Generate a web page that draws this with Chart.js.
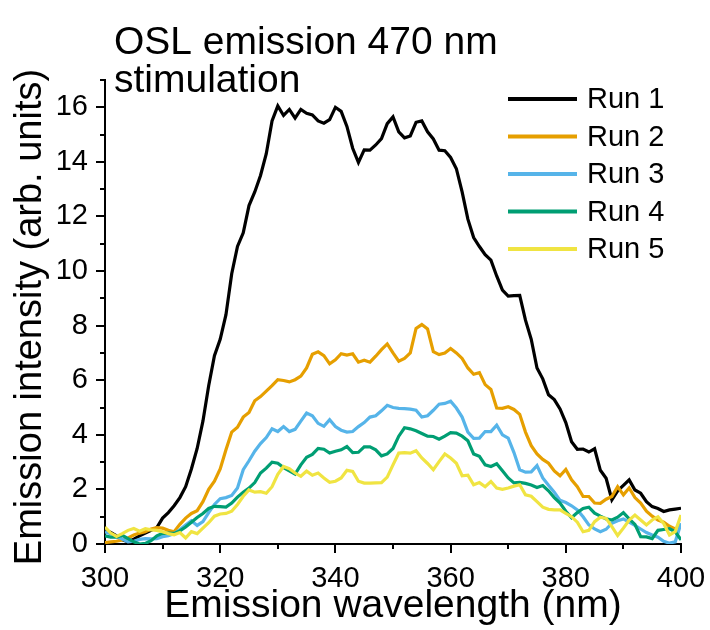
<!DOCTYPE html>
<html>
<head>
<meta charset="utf-8">
<script src="https://cdn.jsdelivr.net/npm/chart.js@4/dist/chart.umd.min.js"></script>
<style>
  html, body { margin: 0; padding: 0; background: #ffffff; }
  #wrap { width: 710px; height: 630px; }
</style>
</head>
<body>
<div id="wrap"><canvas id="chart" width="710" height="630"></canvas></div>
<script>
// Emission wavelength (nm), 1 nm steps
const wavelength = [
  300,301,302,303,304,305,306,307,308,309,
  310,311,312,313,314,315,316,317,318,319,
  320,321,322,323,324,325,326,327,328,329,
  330,331,332,333,334,335,336,337,338,339,
  340,341,342,343,344,345,346,347,348,349,
  350,351,352,353,354,355,356,357,358,359,
  360,361,362,363,364,365,366,367,368,369,
  370,371,372,373,374,375,376,377,378,379,
  380,381,382,383,384,385,386,387,388,389,
  390,391,392,393,394,395,396,397,398,399,
  400
];

// Emission intensity (arb. units) per run
const run1 = [
  0.50,0.42,0.30,0.15,0.08,0.18,0.30,0.40,0.50,0.60,
  0.95,1.15,1.40,1.70,2.10,2.75,3.50,4.50,5.80,6.90,
  7.50,8.40,9.90,10.9,11.4,12.4,12.9,13.5,14.3,15.5,
  16.05,15.7,15.92,15.6,15.92,15.78,15.72,15.5,15.42,15.55,
  16.0,15.85,15.3,14.5,13.98,14.44,14.43,14.62,14.85,15.4,
  15.65,15.1,14.88,14.95,15.45,15.5,15.1,14.84,14.43,14.41,
  14.16,13.75,12.9,11.9,11.23,10.9,10.6,10.4,9.82,9.30,
  9.08,9.10,9.11,8.20,7.50,6.45,6.05,5.47,5.29,4.95,
  4.45,3.75,3.47,3.48,3.37,3.49,2.70,2.41,1.62,1.95,
  2.15,2.35,1.98,1.86,1.55,1.37,1.30,1.19,1.25,1.28,
  1.31
];
const run2 = [
  0.05,0.08,0.10,0.15,0.22,0.33,0.40,0.45,0.55,0.60,
  0.58,0.50,0.45,0.72,0.95,1.12,1.22,1.55,2.00,2.30,
  2.75,3.45,4.10,4.28,4.65,4.82,5.25,5.40,5.60,5.80,
  6.02,5.99,5.94,6.02,6.15,6.45,6.95,7.04,6.90,6.60,
  6.75,6.97,6.92,6.97,6.66,6.73,6.66,6.88,7.12,7.33,
  7.00,6.70,6.80,7.00,7.90,8.04,7.88,7.05,6.94,7.00,
  7.16,7.00,6.80,6.45,6.22,6.28,5.84,5.66,4.98,4.97,
  5.03,4.93,4.75,4.10,3.60,3.30,3.10,2.96,2.68,2.50,
  2.73,2.35,2.10,1.74,1.74,1.50,1.49,1.64,1.74,2.10,
  1.80,2.05,1.70,1.50,1.20,1.02,0.88,0.80,0.65,0.55,
  0.70
];
const run3 = [
  0.45,0.38,0.28,0.18,0.08,0.10,0.17,0.20,0.19,0.20,
  0.27,0.30,0.38,0.52,0.70,0.85,0.68,0.82,1.15,1.45,
  1.66,1.70,1.78,2.05,2.72,3.05,3.40,3.68,3.90,4.22,
  4.12,4.30,4.12,4.20,4.50,4.80,4.70,4.42,4.31,4.55,
  4.30,4.17,4.10,4.12,4.30,4.45,4.65,4.70,4.88,5.08,
  5.00,4.97,4.96,4.94,4.90,4.65,4.70,4.90,5.12,5.15,
  5.23,4.98,4.65,4.10,3.87,3.88,4.12,4.12,4.35,4.00,
  3.88,3.35,2.72,2.63,2.64,2.87,2.42,2.15,1.90,1.60,
  1.52,1.40,1.25,1.00,0.70,0.55,0.45,0.54,0.76,0.85,
  0.92,0.80,0.68,0.55,0.42,0.33,0.25,0.10,0.03,0.08,
  0.76
];
const run4 = [
  0.30,0.25,0.25,0.32,0.20,0.08,0.00,0.02,0.12,0.30,
  0.39,0.40,0.39,0.48,0.62,0.80,0.97,1.12,1.30,1.38,
  1.37,1.35,1.50,1.72,1.90,2.05,2.25,2.60,2.78,3.00,
  2.96,2.80,2.68,2.56,2.90,3.18,3.28,3.50,3.47,3.33,
  3.40,3.45,3.57,3.35,3.36,3.56,3.56,3.45,3.23,3.30,
  3.50,3.95,4.26,4.22,4.15,4.05,3.95,3.94,3.84,3.95,
  4.08,4.06,3.95,3.78,3.30,3.21,2.90,2.84,2.94,2.68,
  2.42,2.24,2.26,2.22,2.16,2.07,2.14,1.95,1.70,1.50,
  1.20,0.96,1.15,1.30,1.35,1.13,1.02,0.92,0.88,0.98,
  1.15,0.92,0.72,0.27,0.26,0.20,0.50,0.53,0.56,0.45,
  0.15
];
const run5 = [
  0.62,0.40,0.28,0.38,0.50,0.57,0.47,0.56,0.52,0.50,
  0.45,0.38,0.34,0.42,0.22,0.45,0.38,0.58,0.78,1.02,
  1.10,1.12,1.20,1.45,1.75,1.98,1.90,1.92,1.86,2.10,
  2.55,2.84,2.76,2.60,2.48,2.67,2.52,2.60,2.42,2.26,
  2.30,2.42,2.70,2.66,2.30,2.23,2.23,2.24,2.25,2.45,
  2.90,3.33,3.35,3.33,3.42,3.15,2.95,2.72,3.02,3.30,
  3.15,2.96,2.50,2.52,2.17,2.25,2.10,2.29,2.05,2.00,
  2.05,2.12,2.17,1.80,1.75,1.55,1.35,1.27,1.25,1.25,
  1.12,1.00,0.80,0.45,0.50,0.82,0.98,0.94,0.64,0.31,
  0.58,0.88,1.06,0.88,0.70,0.88,1.00,0.75,0.33,0.45,
  1.06
];

const runLabels = ['Run 1', 'Run 2', 'Run 3', 'Run 4', 'Run 5'];
const runColors = ['#000000', '#E69F00', '#56B4E9', '#009E73', '#F0E442'];
const runValues = [run1, run2, run3, run4, run5];

const xMajorTicks = [300, 320, 340, 360, 380, 400];
const yMajorTicks = [0, 2, 4, 6, 8, 10, 12, 14, 16];

const titleLines = ['OSL emission 470 nm', 'stimulation'];
const xTitle = 'Emission wavelength (nm)';
const yTitle = 'Emission intensity (arb. units)';

const FONT = "'Liberation Sans', Arial, sans-serif";

const datasets = runValues.map((vals, i) => ({
  label: runLabels[i],
  data: wavelength.map((w, k) => ({ x: w, y: vals[k] })),
  borderColor: runColors[i],
  backgroundColor: runColors[i],
  borderWidth: 3.2,
  pointRadius: 0,
  tension: 0,
  order: runValues.length - i
}));

// Outward major/minor tick marks on both axes
const tickMarks = {
  id: 'tickMarks',
  afterDraw(chart) {
    const { ctx, chartArea, scales } = chart;
    ctx.save();
    ctx.strokeStyle = '#000';
    ctx.lineWidth = 2;
    ctx.beginPath();
    scales.x.ticks.forEach(t => {
      const px = Math.round(scales.x.getPixelForValue(t.value));
      const len = xMajorTicks.includes(t.value) ? 9 : 5;
      ctx.moveTo(px, chartArea.bottom);
      ctx.lineTo(px, chartArea.bottom + len);
    });
    scales.y.ticks.forEach(t => {
      const py = Math.round(scales.y.getPixelForValue(t.value));
      const len = yMajorTicks.includes(t.value) ? 9 : 5;
      ctx.moveTo(chartArea.left, py);
      ctx.lineTo(chartArea.left - len, py);
    });
    ctx.stroke();
    ctx.restore();
  }
};

// Plot title, rotated y-axis title and the series key
const annotations = {
  id: 'annotations',
  afterDraw(chart) {
    const { ctx, chartArea } = chart;
    ctx.save();
    ctx.fillStyle = '#000';
    ctx.textAlign = 'left';
    ctx.textBaseline = 'alphabetic';
    ctx.font = '39px ' + FONT;
    ctx.fillText(titleLines[0], 114, 54);
    ctx.fillText(titleLines[1], 114, 92);

    // y-axis title
    ctx.save();
    ctx.translate(31, (chartArea.top + chartArea.bottom) / 2 + 5);
    ctx.rotate(-Math.PI / 2);
    ctx.textAlign = 'center';
    ctx.textBaseline = 'middle';
    ctx.font = '38px ' + FONT;
    ctx.fillText(yTitle, 0, 0);
    ctx.restore();

    ctx.font = '29px ' + FONT;
    ctx.textBaseline = 'middle';
    chart.data.datasets.forEach((ds, i) => {
      const y = 99 + i * 37.5;
      ctx.strokeStyle = ds.borderColor;
      ctx.lineWidth = 4;
      ctx.beginPath();
      ctx.moveTo(508, y);
      ctx.lineTo(577, y);
      ctx.stroke();
      ctx.fillStyle = '#000';
      ctx.fillText(ds.label, 587, y + 1);
    });
    ctx.restore();
  }
};

new Chart(document.getElementById('chart'), {
  type: 'line',
  data: { datasets },
  options: {
    responsive: false,
    animation: false,
    layout: { padding: { top: 80, right: 29, left: 0, bottom: 0 } },
    plugins: {
      legend: { display: false },
      tooltip: { enabled: false },
      title: { display: false }
    },
    scales: {
      x: {
        type: 'linear',
        min: 300,
        max: 400,
        afterFit(scale) {
          scale.height = 86;
          scale.paddingLeft = 0;
          scale.paddingRight = 0;
        },
        grid: { display: false },
        border: { display: true, color: '#000', width: 2 },
        ticks: {
          stepSize: 10,
          autoSkip: false,
          maxRotation: 0,
          padding: 10,
          color: '#000',
          font: { family: FONT, size: 29 },
          callback: v => (xMajorTicks.includes(v) ? String(v) : '')
        },
        title: {
          display: true,
          text: xTitle,
          color: '#000',
          font: { family: FONT, size: 39, lineHeight: 1 },
          padding: { top: 0, bottom: 4 }
        }
      },
      y: {
        type: 'linear',
        min: 0,
        max: 17,
        afterFit(scale) {
          scale.width = 105;
          scale.paddingTop = 0;
          scale.paddingBottom = 0;
        },
        grid: { display: false },
        border: { display: true, color: '#000', width: 2 },
        ticks: {
          stepSize: 1,
          autoSkip: false,
          padding: 9,
          color: '#000',
          font: { family: FONT, size: 29 },
          callback: v => (yMajorTicks.includes(v) ? String(v) : '')
        },
        title: { display: false }
      }
    }
  },
  plugins: [tickMarks, annotations]
});
</script>
</body>
</html>
